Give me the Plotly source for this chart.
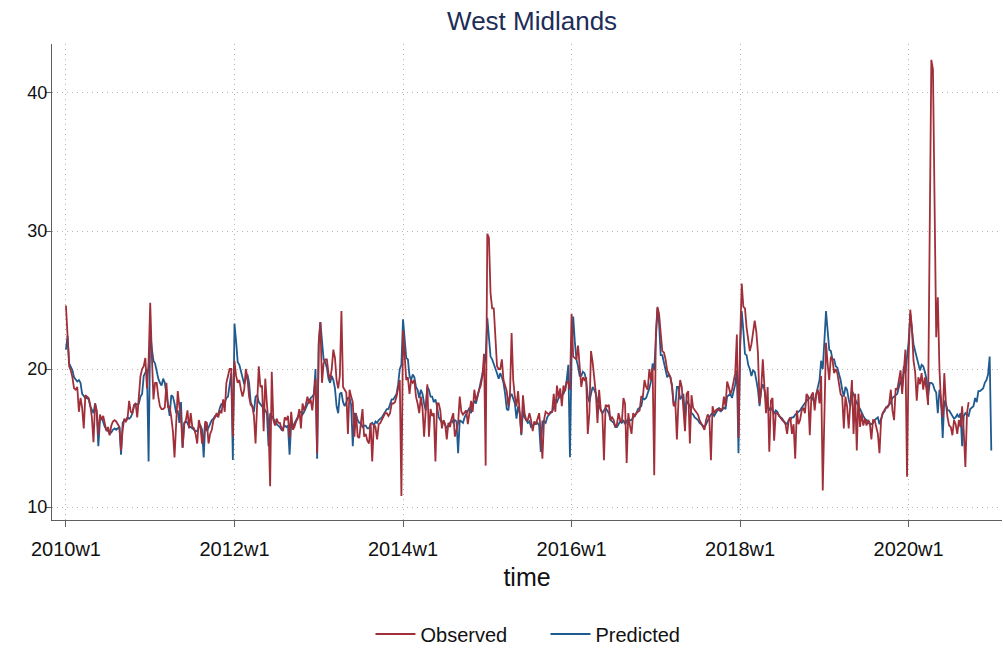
import plotly.graph_objects as go

# ---------------- data (weekly values) ----------------
pred_2010 = [21.4, 22.4, 20.4, 20.2, 19.9, 19.4, 19.2, 19.1, 19.2, 19.0,
             18.2, 18.0, 17.9, 17.9, 17.8, 17.3, 17.0, 16.8, 17.5, 16.8,
             14.4, 16.3, 16.5, 16.1, 15.8, 15.6, 15.5, 15.3, 15.4, 15.6,
             15.7, 15.6, 15.7, 15.8, 13.8, 16.1, 16.3, 16.3, 16.5, 16.4,
             16.5, 16.8, 17.3, 17.5, 17.4, 17.5, 18.0, 18.2, 19.5, 19.8,
             20.0, 13.3]
obs_2010 = [24.6, 22.5, 20.2, 19.9, 19.4, 18.6, 18.5, 18.7, 16.9, 17.9,
            17.2, 15.7, 18.1, 18.0, 17.9, 17.4, 16.5, 14.7, 17.5, 17.0,
            15.2, 16.7, 16.3, 16.6, 16.0, 15.5, 15.8, 15.2, 15.9, 16.2,
            16.3, 16.2, 16.0, 15.8, 14.1, 15.6, 16.4, 16.2, 16.4, 17.7,
            16.9, 16.8, 17.4, 17.5, 16.5, 18.2, 19.5, 20.0, 20.2, 20.8,
            18.6, 20.5]

pred_2011 = [22.6, 21.5, 20.6, 20.4, 19.8, 19.3, 19.0, 18.8, 19.3, 19.0,
             18.2, 17.4, 16.6, 18.1, 18.0, 17.5, 16.8, 17.0, 16.1, 17.6,
             14.3, 16.1, 16.2, 16.1, 15.8, 15.8, 15.7, 15.6, 15.5, 15.5,
             15.8, 15.9, 15.6, 13.6, 16.1, 15.5, 15.8, 16.1, 16.3, 16.4,
             16.6, 16.6, 16.7, 17.2, 17.5, 17.3, 17.6, 17.9, 18.0, 18.7,
             19.7, 13.4]
obs_2011 = [24.8, 21.0, 17.8, 19.0, 19.0, 18.0, 17.3, 17.1, 17.1, 17.2,
            19.0, 17.2, 17.3, 16.5, 15.5, 13.6, 16.5, 18.4, 17.3, 16.5,
            14.3, 16.0, 16.3, 17.0, 15.7, 16.8, 15.8, 15.7, 15.3, 14.6,
            16.3, 15.8, 14.6, 15.0, 16.2, 16.1, 14.6, 15.3, 15.6, 16.3,
            16.5, 16.8, 16.5, 17.0, 16.8, 17.8, 16.9, 19.0, 19.5, 20.0,
            20.0, 15.1]

pred_2012 = [23.3, 22.0, 20.5, 20.3, 19.8, 19.4, 18.9, 19.3, 19.6, 19.0,
             17.6, 17.3, 16.9, 18.0, 18.1, 17.6, 17.4, 17.3, 17.2, 17.0,
             16.8, 14.4, 16.8, 16.6, 16.4, 16.1, 16.0, 15.9, 15.8, 15.6,
             15.8, 15.9, 15.8, 15.9, 13.8, 16.0, 15.8, 16.1, 16.3, 16.5,
             16.8, 16.9, 16.7, 16.9, 17.2, 17.5, 17.7, 17.9, 18.0, 18.2,
             20.0, 13.5]
obs_2012 = [20.6, 19.5, 19.0, 19.2, 18.5, 18.0, 18.5, 20.0, 19.4, 18.0,
            17.4, 17.3, 16.6, 14.6, 17.5, 20.2, 18.7, 18.8, 15.5, 19.3,
            17.5, 16.0, 11.5, 19.8, 16.3, 15.9, 16.4, 16.1, 16.1, 15.7,
            15.5, 16.5, 16.3, 16.6, 15.0, 16.9, 15.6, 15.8, 16.2, 16.4,
            17.1, 15.7, 17.5, 17.0, 17.4, 18.0, 17.5, 17.8, 17.0, 18.2,
            19.3, 13.9]

pred_2013 = [21.8, 23.4, 22.3, 20.7, 20.5, 20.1, 19.3, 19.0, 19.5, 19.2,
             18.6, 17.3, 16.8, 18.2, 18.3, 17.6, 17.3, 17.6, 17.9, 17.9,
             17.4, 14.4, 16.8, 16.7, 16.3, 16.1, 16.1, 15.8, 15.9, 15.9,
             15.7, 15.7, 16.0, 16.1, 15.9, 16.2, 16.1, 16.3, 16.4, 16.5,
             16.7, 16.9, 17.1, 17.1, 17.5, 17.8, 17.8, 18.0, 18.2, 18.9,
             20.0, 20.3]
obs_2013 = [22.0, 23.4, 19.0, 20.4, 20.7, 20.7, 19.7, 19.2, 20.0, 21.4,
            20.8, 19.2, 18.6, 19.5, 24.2, 18.7, 18.5, 18.3, 15.3, 18.5,
            18.0, 17.6, 15.1, 16.8, 15.1, 15.0, 16.1, 17.1, 15.1, 15.3,
            14.8, 14.6, 16.1, 13.3, 16.0, 15.8, 14.9, 16.0, 16.1, 16.3,
            16.6, 16.8, 16.8, 16.6, 16.8, 17.5, 17.5, 17.6, 18.0, 18.7,
            19.2, 10.8]

pred_2014 = [23.6, 22.2, 20.8, 20.7, 19.5, 19.2, 19.6, 19.4, 18.7, 18.5,
             17.9, 18.5, 18.2, 17.5, 17.0, 18.7, 18.5, 18.0, 18.0, 17.6,
             17.8, 17.3, 16.5, 16.3, 16.1, 16.2, 15.9, 15.7, 15.9, 16.1,
             16.3, 16.1, 16.3, 16.2, 13.9, 16.3, 16.2, 16.1, 16.5, 16.7,
             17.0, 17.2, 16.8, 17.4, 17.7, 17.5, 18.0, 18.5, 19.0, 19.5,
             20.2, 20.8]
obs_2014 = [22.8, 21.0, 19.2, 19.4, 18.2, 19.2, 19.0, 19.2, 18.0, 17.5,
            16.8, 18.0, 17.2, 15.1, 17.5, 18.9, 15.1, 17.1, 16.6, 16.8,
            13.3, 17.5, 17.5, 17.0, 15.7, 16.3, 16.0, 14.9, 16.1, 15.8,
            16.4, 16.8, 15.1, 15.7, 16.1, 18.0, 16.9, 16.7, 16.9, 17.0,
            16.0, 17.0, 17.7, 16.9, 18.5, 17.7, 18.2, 18.5, 18.8, 19.5,
            21.1, 13.0]

pred_2015 = [23.7, 22.3, 20.9, 20.7, 20.4, 20.0, 19.7, 19.3, 19.7, 19.4,
             19.0, 18.2, 17.1, 17.0, 18.0, 18.2, 17.8, 17.5, 16.4, 17.3,
             16.8, 15.2, 17.0, 16.5, 16.3, 16.1, 16.2, 15.8, 15.9, 16.0,
             16.0, 16.1, 15.9, 14.0, 16.2, 16.2, 16.1, 16.5, 16.7, 16.8,
             16.9, 17.2, 17.7, 17.6, 17.9, 18.0, 18.1, 18.2, 18.5, 19.2,
             20.3, 13.6]
obs_2015 = [29.8, 29.5, 25.5, 24.4, 24.4, 22.0, 20.2, 20.0, 20.0, 20.7,
            19.2, 18.8, 18.4, 17.3, 18.2, 22.6, 19.2, 18.0, 17.3, 18.4,
            17.0, 15.3, 18.1, 16.8, 16.3, 16.3, 16.8, 16.3, 15.5, 16.2,
            16.0, 16.5, 16.8, 15.5, 13.5, 16.3, 16.9, 16.8, 16.7, 16.9,
            16.9, 18.2, 16.9, 18.8, 17.9, 18.6, 17.3, 18.8, 18.4, 19.1,
            19.0, 18.5]

pred_2016 = [21.0, 23.8, 22.0, 20.7, 20.2, 19.5, 19.5, 19.8, 19.7, 19.2,
             18.0, 17.6, 18.2, 18.7, 18.5, 18.2, 17.7, 17.3, 17.0, 16.8,
             17.0, 17.2, 17.0, 16.8, 16.3, 16.2, 16.1, 15.8, 15.8, 16.0,
             16.2, 16.1, 16.3, 16.0, 16.2, 16.4, 16.3, 16.3, 16.5, 16.6,
             16.8, 17.1, 17.2, 17.3, 17.9, 17.8, 17.9, 18.2, 18.6, 19.1,
             20.4, 19.9]
obs_2016 = [24.0, 20.9, 20.8, 20.7, 21.7, 20.3, 18.7, 19.4, 19.2, 19.4,
            15.3, 16.8, 21.3, 20.5, 19.4, 18.2, 16.1, 18.5, 17.1, 16.8,
            13.4, 17.4, 17.3, 17.4, 16.3, 16.5, 16.3, 15.8, 16.0, 16.8,
            16.3, 16.1, 17.9, 17.5, 13.2, 16.8, 15.9, 15.3, 16.8, 16.6,
            16.8, 16.9, 17.0, 18.0, 18.0, 19.2, 18.7, 18.5, 20.0, 19.2,
            20.1, 12.3]

pred_2017 = [22.8, 24.4, 23.3, 21.0, 21.0, 20.4, 20.0, 19.4, 19.6, 19.4,
             18.8, 17.5, 17.3, 18.7, 18.7, 17.8, 18.0, 18.2, 16.5, 17.7,
             17.5, 17.3, 16.8, 16.7, 16.5, 16.4, 16.3, 16.1, 16.0, 15.9,
             15.8, 16.0, 16.3, 16.5, 16.7, 16.8, 16.6, 16.8, 17.0, 17.2,
             16.9, 17.1, 17.2, 17.1, 18.0, 18.1, 18.2, 17.9, 18.4, 18.9,
             19.9, 13.9]
obs_2017 = [22.5, 24.5, 24.0, 22.6, 21.3, 21.2, 20.7, 19.9, 19.7, 19.4,
            18.7, 17.3, 17.6, 14.9, 17.8, 19.2, 18.7, 17.0, 15.5, 18.2,
            18.4, 14.6, 18.1, 17.2, 17.0, 16.9, 16.7, 16.3, 16.1, 15.8,
            15.6, 16.3, 16.7, 16.5, 13.4, 17.3, 16.8, 17.0, 17.1, 17.0,
            17.1, 17.0, 18.0, 17.3, 19.1, 18.7, 18.2, 18.5, 19.0, 19.7,
            22.5, 15.0]

pred_2018 = [21.5, 24.2, 22.8, 21.1, 21.0, 20.3, 20.0, 19.5, 19.9, 19.8,
             19.2, 18.5, 17.3, 18.5, 18.9, 18.5, 17.8, 17.5, 17.0, 17.2,
             17.0, 16.8, 17.0, 16.9, 16.6, 16.5, 16.4, 16.2, 16.1, 16.0,
             16.3, 16.3, 16.5, 16.5, 16.7, 16.8, 16.9, 17.0, 17.2, 17.4,
             17.5, 17.7, 17.8, 17.9, 18.0, 17.8, 17.5, 18.2, 18.7, 19.2,
             20.6, 20.0]
obs_2018 = [22.0, 26.2, 24.5, 24.4, 23.0, 22.0, 21.3, 21.8, 22.8, 23.5,
            22.7, 21.2, 17.5, 18.5, 20.7, 18.5, 16.8, 18.7, 14.0, 17.7,
            17.9, 14.8, 16.8, 16.8, 16.6, 16.5, 16.3, 16.2, 16.0, 15.3,
            16.3, 16.5, 15.3, 16.0, 13.5, 17.0, 16.0, 16.3, 17.0, 17.2,
            16.8, 18.2, 18.0, 15.2, 18.1, 18.3, 17.0, 18.2, 18.5, 17.5,
            19.5, 11.2]

pred_2019 = [22.0, 24.2, 22.8, 21.4, 21.3, 20.7, 20.7, 20.2, 20.1, 19.7,
             19.2, 18.5, 18.0, 18.7, 18.5, 17.8, 17.3, 18.4, 18.2, 17.8,
             17.5, 17.3, 17.1, 16.8, 16.6, 16.4, 16.3, 16.1, 16.0, 16.0,
             16.1, 16.3, 16.4, 16.5, 16.0, 16.5, 16.8, 16.9, 17.2, 17.3,
             17.4, 17.6, 17.9, 18.0, 18.1, 18.2, 18.7, 19.2, 18.7, 20.2,
             19.7, 20.7]
obs_2019 = [17.5, 21.9, 20.4, 19.2, 20.9, 20.7, 19.7, 20.0, 19.7, 19.0,
            18.2, 18.0, 15.7, 18.0, 17.3, 15.7, 17.3, 19.2, 15.3, 18.2,
            14.1, 18.2, 15.8, 16.8, 15.9, 16.4, 15.9, 16.3, 16.1, 14.9,
            16.3, 16.3, 15.8, 15.3, 13.9, 16.3, 16.8, 17.0, 17.2, 17.2,
            17.5, 18.5, 17.0, 16.3, 18.6, 18.5, 19.4, 19.9, 18.2, 19.9,
            21.4, 12.2]

pred_2020 = [22.0, 24.0, 23.0, 21.8, 21.3, 20.8, 20.3, 19.9, 20.3, 20.2,
             19.8, 19.3, 18.0, 19.0, 19.0, 18.9, 18.5, 18.3, 16.8, 18.5,
             17.8, 15.0, 17.7, 17.5, 17.0, 17.0, 16.8, 16.6, 16.4, 16.5,
             16.7, 16.5, 16.8, 14.4, 16.6, 16.8, 16.7, 16.6, 17.1, 17.2,
             17.3, 17.9, 17.6, 18.4, 18.4, 18.5, 18.6, 19.0, 19.2, 19.6,
             20.9, 14.1]
obs_2020 = [21.0, 24.3, 23.0, 20.6, 19.8, 17.7, 19.4, 18.9, 19.7, 18.5,
            19.4, 18.5, 17.4, 30.0, 42.4, 41.7, 32.0, 22.3, 25.2, 20.0,
            17.5, 16.5, 19.7, 17.5, 16.5, 15.9, 15.8, 15.2, 16.3, 16.0,
            15.3, 16.3, 15.8, 17.3, 15.5, 12.9, 16.8, 17.6]

tick_weeks = [0, 104, 208, 312, 416, 520]
tick_labels = ["2010w1", "2012w1", "2014w1", "2016w1", "2018w1", "2020w1"]
y_ticks = [10, 20, 30, 40]

predicted = (pred_2010 + pred_2011 + pred_2012 + pred_2013 + pred_2014 + pred_2015
             + pred_2016 + pred_2017 + pred_2018 + pred_2019 + pred_2020)
observed = (obs_2010 + obs_2011 + obs_2012 + obs_2013 + obs_2014 + obs_2015
            + obs_2016 + obs_2017 + obs_2018 + obs_2019 + obs_2020)
weeks_pred = list(range(len(predicted)))
weeks_obs = list(range(len(observed)))

RED = "#a12f39"
BLUE = "#1f5b8f"
AXIS = "#5f5f5f"
GRID = "#b4b4b4"
FONT = "Liberation Sans, Arial, sans-serif"

fig = go.Figure()
fig.add_trace(go.Scatter(x=weeks_pred, y=predicted, mode="lines", name="Predicted",
                         line=dict(color=BLUE, width=1.8)))
fig.add_trace(go.Scatter(x=weeks_obs, y=observed, mode="lines", name="Observed",
                         line=dict(color=RED, width=1.8)))

fig.update_layout(
    width=1004, height=648,
    margin=dict(l=52, r=2, t=44, b=128, autoexpand=False),
    paper_bgcolor="white", plot_bgcolor="white",
    font=dict(family=FONT, color="#111111"),
    title=dict(text="West Midlands", x=0.53, xanchor="center", y=0.968, yanchor="middle",
               yref="container", font=dict(size=26, color="#1c2d57", family=FONT)),
    showlegend=True,
    legend=dict(orientation="h", xref="container", yref="container",
                x=0.369, xanchor="left", y=0.0216, yanchor="middle",
                traceorder="reversed", font=dict(size=20, color="#111111"),
                itemwidth=40, entrywidth=120, bgcolor="rgba(0,0,0,0)"),
)
fig.update_xaxes(
    range=[-8.6, 577.6], tickvals=tick_weeks, ticktext=tick_labels,
    showgrid=True, gridcolor=GRID, griddash="1px,4px", gridwidth=1,
    showline=True, linecolor=AXIS, linewidth=1.3, mirror=False,
    ticks="outside", ticklen=6, tickcolor=AXIS, tickwidth=1.3,
    tickfont=dict(size=20), ticklabelstandoff=5, zeroline=False,
    automargin=False,
    title=dict(text="time", font=dict(size=25), standoff=9),
)
fig.update_yaxes(
    range=[9.06, 43.55], tickvals=y_ticks,
    showgrid=True, gridcolor=GRID, griddash="1px,4px", gridwidth=1,
    showline=True, linecolor=AXIS, linewidth=1.3, mirror=False,
    ticks="outside", ticklen=6, tickcolor=AXIS, tickwidth=1.3,
    tickfont=dict(size=18), ticklabelstandoff=-6, zeroline=False,
    automargin=False,
)

fig.write_html("out.html", config={"displayModeBar": False},
               post_script="document.body.style.margin='0';")
